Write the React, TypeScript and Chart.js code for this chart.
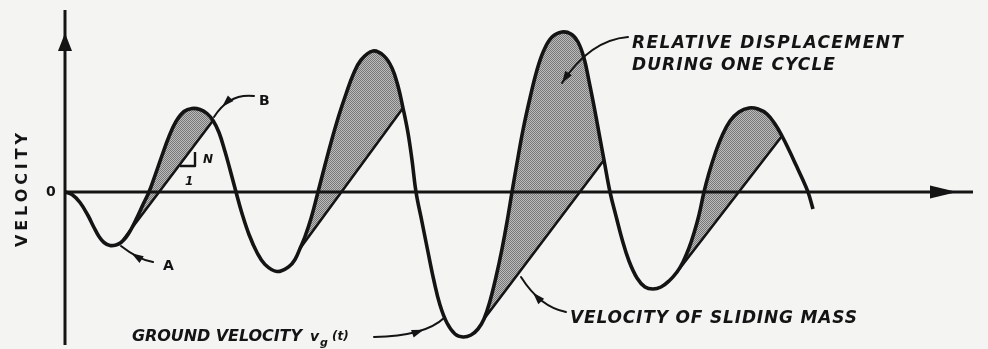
import { useEffect, useRef } from "react";
import Chart from "chart.js/auto";

// Ground velocity v_g(t): samples along the trace (time, velocity)
const groundT = [
  0, 0.7, 1.5, 2.3, 2.9, 3.4, 3.9, 4.5, 5.1, 5.6, 6.1, 6.6, 7.2, 7.8, 8.4,
  9.0, 9.7, 10.4, 11.1, 11.9, 12.7, 13.5, 14.2, 14.8, 15.4, 16.0, 16.5, 17.1,
  17.7, 18.4, 19.2, 20.0, 21.2, 22.4, 23.0, 23.5, 24.0, 24.6, 25.3,
  26.0, 26.7, 27.4, 28.1, 28.8, 29.6, 30.8, 31.9, 32.7, 33.3, 33.8, 34.3, 34.7, 35.1,
  35.7, 36.3, 36.9, 37.5, 38.2, 39.0, 39.8, 40.6, 41.3, 41.9, 42.5, 43.1, 43.7, 44.2, 44.7,
  45.2, 45.8, 46.5, 47.2, 47.9, 48.7, 49.7, 50.6, 51.3, 51.9, 52.4, 52.9, 53.4, 53.9, 54.5,
  55.1, 55.7, 56.4, 57.2, 58.0, 58.8, 59.6, 60.4, 61.2, 61.8, 62.4, 62.9, 63.4, 63.9,
  64.4, 65.0, 65.7, 66.5, 67.4, 68.4, 69.3, 70.2, 71.0, 71.7, 72.4, 73.1, 73.7, 74.3, 74.8,
];
const groundV = [
  0, -0.25, -1.05, -2.35, -3.55, -4.45, -5.05, -5.35, -5.3, -5.05, -4.55, -3.75, -2.55, -1.25, 0,
  1.65, 3.65, 5.55, 7.05, 8.05, 8.35, 8.25, 7.85, 7.15, 5.95, 4.05, 2.25, 0,
  -2.15, -4.25, -6.05, -7.25, -7.95, -7.45, -6.75, -5.65, -4.45, -2.65, 0,
  2.7, 5.3, 7.7, 9.8, 11.7, 13.2, 14.1, 13.6, 12.4, 10.6, 8.4, 5.9, 3.2, 0,
  -3.0, -6.0, -8.9, -11.3, -13.1, -14.2, -14.5, -14.3, -13.7, -12.7, -10.9, -8.5, -5.7, -3.0, 0,
  2.9, 6.2, 9.4, 12.2, 14.2, 15.5, 16.0, 15.8, 15.0, 13.4, 11.1, 8.6, 5.9, 3.2, 0,
  -2.4, -4.7, -6.9, -8.6, -9.5, -9.7, -9.5, -8.9, -8.0, -7.0, -5.6, -4.1, -2.3, 0,
  1.9, 3.8, 5.6, 7.1, 8.0, 8.4, 8.3, 7.8, 6.8, 5.6, 4.2, 2.7, 1.4, 0, -1.7,
];

// Velocity of the sliding mass while it slips (straight runs of slope N)
const slideStartT = [5.6, 23.5, 41.9, 61.2];
const slideStartV = [-5.05, -5.65, -12.7, -8.0];
const slideEndT = [14.8, 33.8, 53.9, 71.7];
const slideEndV = [7.15, 8.4, 3.2, 5.6];

// Axis extents
const timeAxisEnd = 90.8;
const velocityAxisTop = 18.2;
const velocityAxisBottom = -15.3;

const INK = "#141414";
const FONT = '"DejaVu Sans", "Liberation Sans", sans-serif';

type Pt = [number, number];

function fitText(
  ctx: CanvasRenderingContext2D,
  text: string,
  left: number,
  baseline: number,
  width: number,
  font: string
) {
  ctx.font = font;
  (ctx as any).letterSpacing = "0px";
  const w0 = ctx.measureText(text).width;
  const gap = Math.max(-1.5, (width - w0) / Math.max(1, text.length - 1));
  (ctx as any).letterSpacing = gap.toFixed(2) + "px";
  ctx.textAlign = "left";
  ctx.textBaseline = "alphabetic";
  ctx.fillText(text, left, baseline);
  (ctx as any).letterSpacing = "0px";
}

function arrowHead(
  ctx: CanvasRenderingContext2D,
  tip: Pt,
  dir: Pt,
  len: number,
  half: number
) {
  const n = Math.hypot(dir[0], dir[1]) || 1;
  const ux = dir[0] / n;
  const uy = dir[1] / n;
  const bx = tip[0] - ux * len;
  const by = tip[1] - uy * len;
  ctx.beginPath();
  ctx.moveTo(tip[0], tip[1]);
  ctx.lineTo(bx - uy * half, by + ux * half);
  ctx.lineTo(bx + uy * half, by - ux * half);
  ctx.closePath();
  ctx.fill();
}

function leader(
  ctx: CanvasRenderingContext2D,
  s: Pt,
  c: Pt,
  e: Pt,
  u: number
) {
  ctx.beginPath();
  ctx.moveTo(s[0], s[1]);
  ctx.quadraticCurveTo(c[0], c[1], e[0], e[1]);
  ctx.stroke();
  const a = (1 - u) * (1 - u);
  const b = 2 * (1 - u) * u;
  const d = u * u;
  const p: Pt = [a * s[0] + b * c[0] + d * e[0], a * s[1] + b * c[1] + d * e[1]];
  const tan: Pt = [
    2 * (1 - u) * (c[0] - s[0]) + 2 * u * (e[0] - c[0]),
    2 * (1 - u) * (c[1] - s[1]) + 2 * u * (e[1] - c[1]),
  ];
  arrowHead(ctx, p, tan, 12, 4);
}

const axesPlugin = {
  id: "arrowAxes",
  beforeDatasetsDraw(chart: any) {
    const { ctx, scales } = chart;
    const X = (t: number) => scales.x.getPixelForValue(t);
    const Y = (v: number) => scales.y.getPixelForValue(v);
    ctx.save();
    ctx.strokeStyle = INK;
    ctx.fillStyle = INK;
    ctx.lineCap = "butt";

    // time axis
    ctx.lineWidth = 2.8;
    ctx.beginPath();
    ctx.moveTo(X(0), Y(0));
    ctx.lineTo(X(timeAxisEnd), Y(0));
    ctx.stroke();
    arrowHead(ctx, [X(89.2), Y(0)], [1, 0], 27, 6.5);

    // velocity axis
    ctx.lineWidth = 3;
    ctx.beginPath();
    ctx.moveTo(X(0), Y(velocityAxisTop));
    ctx.lineTo(X(0), Y(velocityAxisBottom));
    ctx.stroke();
    arrowHead(ctx, [X(0), Y(15.9)], [0, -1], 18, 7);
    ctx.restore();
  },
};

const notesPlugin = {
  id: "notes",
  afterDatasetsDraw(chart: any) {
    const { ctx, scales } = chart;
    const P = (t: number, v: number): Pt => [
      scales.x.getPixelForValue(t),
      scales.y.getPixelForValue(v),
    ];
    ctx.save();
    ctx.fillStyle = INK;
    ctx.strokeStyle = INK;
    ctx.lineCap = "round";
    ctx.lineJoin = "round";

    // axis labels
    const [vx, vy] = P(-4.4, 0.2);
    ctx.save();
    ctx.translate(vx, vy);
    ctx.rotate(-Math.PI / 2);
    fitText(ctx, "VELOCITY", -57, 6, 114, `bold 16px ${FONT}`);
    ctx.restore();
    const z = P(-1.9, -0.4);
    ctx.font = `bold 14px ${FONT}`;
    ctx.textAlign = "left";
    ctx.fillText("0", z[0], z[1]);

    // stick / slip points
    ctx.lineWidth = 2;
    leader(ctx, P(8.8, -7.0), P(7.4, -6.8), P(5.6, -5.4), 0.7);
    ctx.font = `bold 14px ${FONT}`;
    const a = P(9.8, -7.8);
    ctx.fillText("A", a[0], a[1]);
    leader(ctx, P(18.9, 9.6), P(16.4, 9.9), P(14.9, 7.5), 0.75);
    const bb = P(19.4, 8.7);
    ctx.fillText("B", bb[0], bb[1]);

    // slope of the slip line
    ctx.lineWidth = 2.4;
    ctx.lineCap = "butt";
    ctx.beginPath();
    const k1 = P(13.0, 4.0);
    const k2 = P(13.0, 2.6);
    const k3 = P(11.5, 2.6);
    ctx.moveTo(k1[0], k1[1]);
    ctx.lineTo(k2[0], k2[1]);
    ctx.lineTo(k3[0], k3[1]);
    ctx.stroke();
    ctx.font = `italic bold 12px ${FONT}`;
    const nn = P(13.8, 2.9);
    ctx.fillText("N", nn[0], nn[1]);
    const one = P(12.0, 0.7);
    ctx.fillText("1", one[0], one[1]);

    // callouts
    ctx.lineWidth = 2;
    ctx.lineCap = "round";
    const italic = `italic bold 17px ${FONT}`;
    const r1 = P(56.7, 14.4);
    const r1e = P(83.8, 14.4);
    fitText(ctx, "RELATIVE DISPLACEMENT", r1[0], r1[1], r1e[0] - r1[0], italic);
    const r2 = P(56.7, 12.2);
    const r2e = P(77.0, 12.2);
    fitText(ctx, "DURING ONE CYCLE", r2[0], r2[1], r2e[0] - r2[0], italic);
    leader(ctx, P(56.3, 15.5), P(52.5, 15.2), P(49.7, 10.9), 1);

    const g1 = P(6.7, -14.9);
    const g1e = P(23.7, -14.9);
    fitText(ctx, "GROUND VELOCITY", g1[0], g1[1], g1e[0] - g1[0], `italic bold 16px ${FONT}`);
    ctx.font = `italic bold 14px ${FONT}`;
    const gv = P(24.5, -14.9);
    ctx.fillText("v", gv[0], gv[1]);
    ctx.font = `italic bold 11px ${FONT}`;
    const gg = P(25.5, -15.4);
    ctx.fillText("g", gg[0], gg[1]);
    ctx.font = `italic bold 12px ${FONT}`;
    const gt = P(26.7, -14.8);
    ctx.fillText("(t)", gt[0], gt[1]);
    leader(ctx, P(30.9, -14.5), P(36.0, -14.4), P(37.9, -12.6), 0.6);

    const s1 = P(50.5, -13.1);
    const s1e = P(79.2, -13.1);
    fitText(ctx, "VELOCITY OF SLIDING MASS", s1[0], s1[1], s1e[0] - s1[0], italic);
    leader(ctx, P(50.1, -12.0), P(47.5, -11.5), P(45.6, -8.5), 0.7);

    ctx.restore();
  },
};

export default function App() {
  const ref = useRef<HTMLCanvasElement>(null);

  useEffect(() => {
    const canvas = ref.current;
    if (!canvas) return;

    // halftone screen for the shaded areas
    const tile = document.createElement("canvas");
    tile.width = 2;
    tile.height = 2;
    const tctx = tile.getContext("2d")!;
    tctx.fillStyle = "#bdbdbd";
    tctx.fillRect(0, 0, 2, 2);
    tctx.fillStyle = "#777777";
    tctx.fillRect(0, 0, 1, 1);
    tctx.fillRect(1, 1, 1, 1);
    const screen = canvas.getContext("2d")!.createPattern(tile, "repeat")!;

    const ground = groundT.map((t, i) => ({ x: t, y: groundV[i] }));
    const sliding: { x: number; y: number | null }[] = [];
    slideStartT.forEach((t, i) => {
      if (i > 0) sliding.push({ x: (slideEndT[i - 1] + t) / 2, y: null });
      sliding.push({ x: t, y: slideStartV[i] });
      sliding.push({ x: slideEndT[i], y: slideEndV[i] });
    });

    const chart = new Chart(canvas, {
      type: "line",
      data: {
        datasets: [
          {
            label: "Ground velocity",
            data: ground,
            borderColor: INK,
            borderWidth: 3.6,
            pointRadius: 0,
            tension: 0.4,
            borderJoinStyle: "round",
            fill: { target: 1, above: screen, below: "rgba(0,0,0,0)" },
          },
          {
            label: "Velocity of sliding mass",
            data: sliding as any,
            borderColor: INK,
            borderWidth: 2.6,
            pointRadius: 0,
            tension: 0,
            spanGaps: false,
            fill: false,
          },
        ],
      },
      options: {
        responsive: false,
        animation: false,
        events: [],
        layout: { padding: 0 },
        scales: {
          x: { type: "linear", min: -6.5, max: 92.3, display: false },
          y: { type: "linear", min: -15.7, max: 19.2, display: false },
        },
        plugins: {
          legend: { display: false },
          tooltip: { enabled: false },
          filler: { drawTime: "beforeDatasetsDraw", propagate: false },
        } as any,
      },
      plugins: [axesPlugin, notesPlugin],
    });

    return () => chart.destroy();
  }, []);

  return (
    <div
      style={{
        position: "fixed",
        left: 0,
        top: 0,
        width: 988,
        height: 349,
        background: "#f4f4f3",
      }}
    >
      <canvas ref={ref} width={988} height={349} style={{ display: "block" }} />
    </div>
  );
}
